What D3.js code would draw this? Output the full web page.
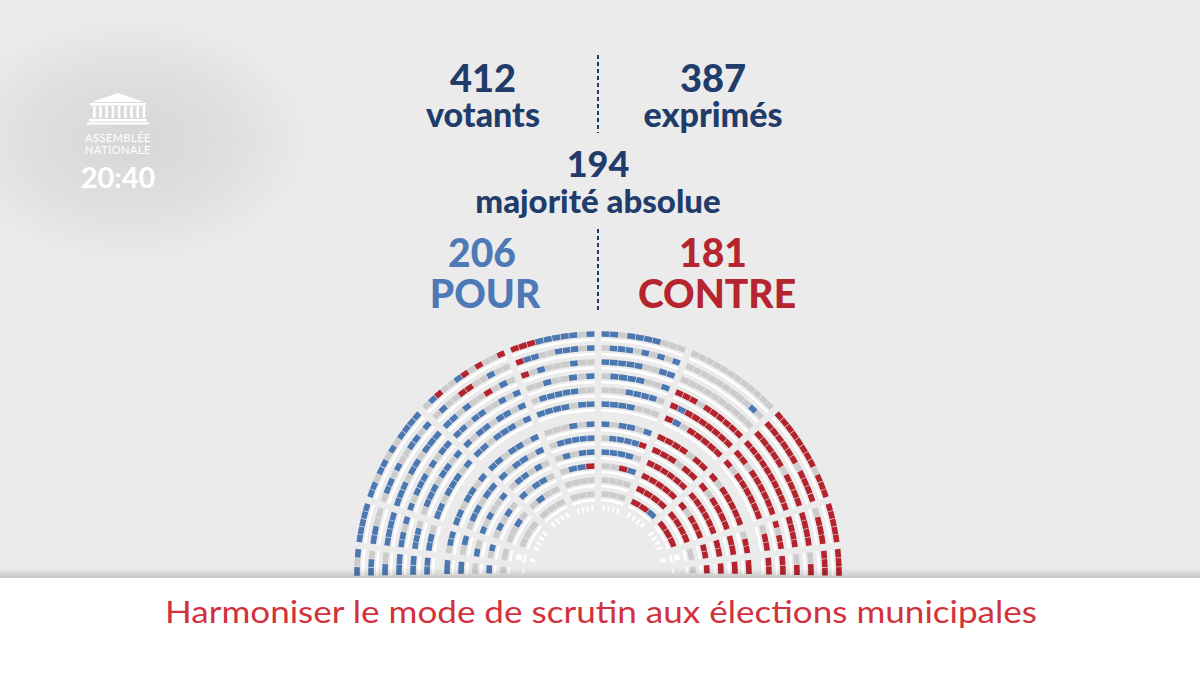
<!DOCTYPE html>
<html>
<head>
<meta charset="utf-8">
<script src="https://cdn.jsdelivr.net/npm/d3@7"></script>
<style>
html, body { margin: 0; padding: 0; background: #ebebeb; }
svg { display: block; }
</style>
</head>
<body>
<svg id="canvas" width="1200" height="675"></svg>
<script>
// vote totals
const totalValues = [412, 387, 194, 206, 181];
const totalLabels = ["votants", "exprimés", "majorité absolue", "POUR", "CONTRE"];
const title = "Harmoniser le mode de scrutin aux élections municipales";
const clock = "20:40";

// seats, one string per row (outer row first), read from left to right across the hemicycle
// B = pour, R = contre, G = non-votant, W = siège vide
const farLeft = ["BGB", "BBG", "BG", "BB", "BB", "BB", "B", "B", "G", "B", "G", "", ""];
const lowerLeft = ["BBBBB", "BBGG", "BBBB", "BBGB", "BBBG", "BBG", "GBB", "GB", "BG", "GB", "G", "W", "W"];
const left = ["BBGBBGBGBBBB", "GBBGBGGBBGB", "BBBGBBGBBB", "BGBBBGBGBB", "GBBBGBBGB", "BBGBBBGB",
              "BBGBBGB", "GBBGBB", "BGBGGB", "GBGBG", "GGBG", "GGG", "WWWW"];
const upperLeft = ["GBRGGBRGRGGR", "GBGGRRGGBGG", "BBGBGGRGBG", "BBGBBGGBGB", "BGBBGBBGB", "BBGBBBGB",
                   "BBGBBGB", "BGBBGB", "GBBGBG", "BGBBG", "GBGG", "GGG", "WWWW"];
const centerLeft = ["RRRBBBBBGB", "RBBGGBBBGB", "RGBGGGBGG", "GGBGGBGB", "GBBBBBGG", "BBBBGBB",
                    "GGGBGB", "GBBBBB", "GBGBB", "GBBR", "GGGG", "GGG", "WWWW"];
const centerRight = ["BBGBBBBGGG", "GBBBGBGBGB", "BBBBBGGBB", "GBBBBGGB", "GGGBBBBG", "BBBBGGG",
                     "BGBBGB", "GBBBBR", "BBBBG", "GGRB", "GGGG", "GGG", "WWWW"];
const upperRight = ["GGGGGGGGGGGG", "GGGGGGGGGBG", "GGGGGGGGGG", "RRRGRRRRRR", "RBRRRRRRR", "RBGRRRRR",
                    "RRRRGRR", "RRRGRR", "RRRRRR", "RRRRR", "RRRR", "RRB", "WWWW"];
const right = ["RRRRRRRRGRRR", "RRRRRRGRRRR", "RRRRRGRRRR", "RRRRRRRRRR", "RRGRRRRRR", "RGRRRRRR",
               "RGRRRRR", "RGRRRR", "RRRRRR", "RGRRR", "RRRR", "RRR", "WWWW"];
const lowerRight = ["RRRRR", "GRRR", "RRRR", "RRRR", "RGRR", "GRR", "GRR", "RR", "RR", "RR", "G", "W", "W"];
const farRight = ["RRR", "RRR", "GR", "GR", "RR", "RR", "R", "R", "R", "R", "G", "", ""];

const sectors = [farLeft, lowerLeft, left, upperLeft, centerLeft, centerRight, upperRight, right, lowerRight, farRight];

const seatColor = { B: "#4c78b2", R: "#b3242e", G: "#cbcbcb", W: "#ffffff" };
const navy = "#1f3c6b", blue = "#4d79b6", red = "#b5242f";

const svg = d3.select("#canvas");
const defs = svg.append("defs");

// soft shade behind the logo
const shade = defs.append("radialGradient").attr("id", "shade");
shade.append("stop").attr("offset", "0%").attr("stop-color", "#000").attr("stop-opacity", 0.09);
shade.append("stop").attr("offset", "55%").attr("stop-color", "#000").attr("stop-opacity", 0.05);
shade.append("stop").attr("offset", "100%").attr("stop-color", "#000").attr("stop-opacity", 0);
svg.append("rect").attr("width", 1200).attr("height", 675).attr("fill", "#ebebeb");
svg.append("ellipse").attr("cx", 130).attr("cy", 140).attr("rx", 185).attr("ry", 125).attr("fill", "url(#shade)");

// logo
const logo = svg.append("g").attr("fill", "#fff");
logo.append("path").attr("d", "M92,102 L118,93 L144,102 Z");
logo.append("rect").attr("x", 90).attr("y", 103).attr("width", 56).attr("height", 2.5);
d3.range(9).forEach(i => {
    logo.append("rect").attr("x", 93 + i * 6.2).attr("y", 106).attr("width", 2.6).attr("height", 12);
});
logo.append("rect").attr("x", 89).attr("y", 119).attr("width", 58).attr("height", 2.5);
logo.append("rect").attr("x", 87).attr("y", 122.5).attr("width", 62).attr("height", 2);
logo.append("text").attr("x", 118).attr("y", 142).attr("text-anchor", "middle")
    .attr("font-family", "Lato").attr("font-size", 11).attr("letter-spacing", 0.5).text("ASSEMBLÉE");
logo.append("text").attr("x", 118).attr("y", 154).attr("text-anchor", "middle")
    .attr("font-family", "Lato").attr("font-size", 11).attr("letter-spacing", 0.5).text("NATIONALE");
logo.append("text").attr("x", 118).attr("y", 188).attr("text-anchor", "middle")
    .attr("font-family", "Lato").attr("font-weight", 700).attr("font-size", 29).text(clock);

// totals
const head = svg.append("g").attr("font-family", "Lato").attr("font-weight", 900).attr("text-anchor", "middle");
const textRows = [
    { t: totalValues[0], x: 483, y: 92, s: 38, c: navy },
    { t: totalLabels[0], x: 483, y: 127, s: 34, c: navy },
    { t: totalValues[1], x: 713, y: 92, s: 38, c: navy },
    { t: totalLabels[1], x: 713, y: 127, s: 34, c: navy },
    { t: totalValues[2], x: 598, y: 177, s: 36, c: navy },
    { t: totalLabels[2], x: 598, y: 213, s: 33, c: navy },
    { t: totalValues[3], x: 482, y: 267, s: 39, c: blue },
    { t: totalLabels[3], x: 485, y: 308, s: 39, c: blue },
    { t: totalValues[4], x: 713, y: 267, s: 39, c: red },
    { t: totalLabels[4], x: 717, y: 308, s: 39, c: red }
];
head.selectAll("text").data(textRows).join("text")
    .attr("x", d => d.x).attr("y", d => d.y)
    .attr("font-size", d => d.s).attr("fill", d => d.c)
    .text(d => d.t);

[[55, 133], [229, 310]].forEach(([y1, y2]) => {
    svg.append("line").attr("x1", 598).attr("x2", 598).attr("y1", y1).attr("y2", y2)
        .attr("stroke", navy).attr("stroke-width", 2).attr("stroke-dasharray", "4,3");
});

// hemicycle
const cx = 598, cy = 575;
const aisles = [-1, 7, 18, 43, 68, 90, 112, 137, 162, 173, 181];   // degrees from the left
const angle = d3.scaleLinear().domain([0, 180]).range([-Math.PI / 2, Math.PI / 2]);
const radius = i => (i < 6 ? 241 - 14 * i : 151 - 14 * (i - 6));
const aisleWidth = 6.5;

const hemi = svg.append("g").attr("transform", `translate(${cx},${cy})`);
const arc = d3.arc();

sectors.forEach((rows, s) => {
    rows.forEach((seats, i) => {
        const r = radius(i);
        const a0 = angle(aisles[s]) + aisleWidth / 2 / r;
        const a1 = angle(aisles[s + 1]) - aisleWidth / 2 / r;
        if (a1 <= a0) return;
        // desk line under the row
        if (i < 12) {
            hemi.append("path")
                .attr("d", arc({ innerRadius: r - 7.2, outerRadius: r - 4.8, startAngle: a0, endAngle: a1 }))
                .attr("fill", "#fff");
        }
        if (!seats.length) return;
        const pos = d3.scaleLinear().domain([0, seats.length]).range([a0, a1]);
        hemi.selectAll(null).data(seats.split("")).join("path")
            .attr("d", (c, k) => {
                const gap = (c === "W" ? 1.6 : 0.3) / r;
                return arc({ innerRadius: r - 2.8, outerRadius: r + 2.8,
                             startAngle: pos(k) + gap, endAngle: pos(k + 1) - gap });
            })
            .attr("fill", c => seatColor[c]);
    });
});

// bottom banner
const fade = defs.append("linearGradient").attr("id", "fade").attr("x1", 0).attr("x2", 0).attr("y1", 0).attr("y2", 1);
fade.append("stop").attr("offset", "0%").attr("stop-color", "#000").attr("stop-opacity", 0);
fade.append("stop").attr("offset", "100%").attr("stop-color", "#000").attr("stop-opacity", 0.16);
svg.append("rect").attr("x", 0).attr("y", 568).attr("width", 1200).attr("height", 10).attr("fill", "url(#fade)");
svg.append("rect").attr("x", 0).attr("y", 578).attr("width", 1200).attr("height", 97).attr("fill", "#fff");
svg.append("text").attr("x", 601).attr("y", 623).attr("text-anchor", "middle")
    .attr("font-family", "Lato").attr("font-size", 31).attr("fill", "#d2323c")
    .attr("textLength", 872).attr("lengthAdjust", "spacingAndGlyphs")
    .text(title);
</script>
</body>
</html>
